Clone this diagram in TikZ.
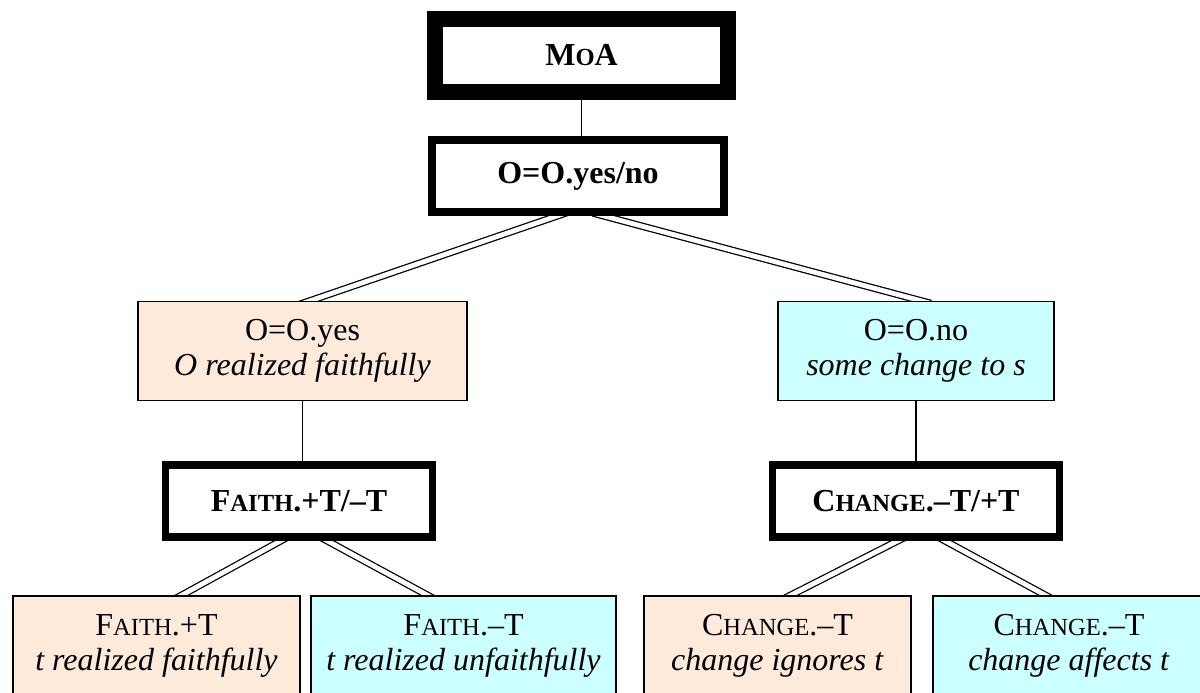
\documentclass[tikz,border=0pt]{standalone}
\usepackage{fontspec}
\setmainfont{Liberation Serif}
\usepackage{tikz}
\usetikzlibrary{calc,backgrounds}
\definecolor{moyes}{RGB}{253,234,218}
\definecolor{mono}{RGB}{204,255,255}
\newcommand{\smc}[1]{{\fontsize{17.5pt}{20pt}\selectfont #1}}
\tikzset{
  mobox/.style={
    draw=black, line width=1.4pt, align=center, inner sep=0pt,
    font=\fontsize{22.76pt}{24.9pt}\selectfont
  },
  hdbox/.style={mobox, fill=white, line width=11.4pt, font=\fontsize{22.76pt}{24.9pt}\selectfont\bfseries},
  decbox/.style={hdbox, line width=5.3pt},
  optyes/.style={mobox, fill=moyes, minimum height=2.475cm},
  optno/.style={mobox, fill=mono, minimum height=2.475cm},
  lnk/.style={draw=black, line width=0.9pt},
  dlnk/.style={draw=black, double=white, double distance=3.4pt, line width=0.9pt,
    shorten <=-8pt, shorten >=-8pt}
}
\begin{document}
\begin{tikzpicture}
  \useasboundingbox (0,0) rectangle (30,17.325);
  \clip (0,0) rectangle (30,17.325);
  \node[hdbox, minimum width=7.325cm, minimum height=1.825cm] (moa) at (14.54,15.94) {M\smc{O}A};
  \node[decbox, line width=5.7pt, minimum width=7.3cm, minimum height=1.8cm] (yesno) at (14.45,12.925) {O=O.yes/no};
  \node[optyes, minimum width=8.225cm] (oyes) at (7.5625,8.55) {O=O.yes\\\textit{O realized faithfully}};
  \node[optno, minimum width=6.9cm] (ono) at (22.9,8.55) {O=O.no\\\textit{some change to s}};
  \node[decbox, minimum width=6.675cm, minimum height=1.8cm] (faith) at (7.475,4.8) {F\smc{AITH}.+T/–T};
  \node[decbox, minimum width=7.175cm, minimum height=1.8cm] (change) at (22.9,4.8) {C\smc{HANGE}.–T/+T};
  \node[optyes, minimum width=7.175cm] (fplus) at (3.9125,1.1875) {F\smc{AITH}.+T\\\textit{t realized faithfully}};
  \node[optno, minimum width=7.625cm] (fminus) at (11.5875,1.1875) {F\smc{AITH}.–T\\\textit{t realized unfaithfully}};
  \node[optyes, minimum width=6.675cm] (cign) at (19.4375,1.1875) {C\smc{HANGE}.–T\\\textit{change ignores t}};
  \node[optno, minimum width=6.8cm] (caff) at (26.725,1.1875) {C\smc{HANGE}.–T\\\textit{change affects t}};
  \begin{scope}[on background layer]
    \draw[lnk] (moa.south) -- (moa.south |- yesno.north);
    \draw[dlnk] ($(yesno.south)+(-0.525,0)$) -- ($(oyes.north)+(0.21,0)$);
    \draw[dlnk] ($(yesno.south)+(0.65,0)$) -- ($(ono.north)+(0.1,0)$);
    \draw[lnk] (oyes.south) -- (oyes.south |- faith.north);
    \draw[lnk] (ono.south) -- (ono.south |- change.north);
    \draw[dlnk] ($(faith.south)+(-0.45,0)$) -- ($(fplus.north)+(0.64,0)$);
    \draw[dlnk] ($(faith.south)+(0.7,0)$) -- ($(fminus.north)+(-0.91,0)$);
    \draw[dlnk] ($(change.south)+(-0.45,0)$) -- ($(cign.north)+(0.34,0)$);
    \draw[dlnk] ($(change.south)+(0.72,0)$) -- ($(caff.north)+(-0.6,0)$);
  \end{scope}
\end{tikzpicture}
\end{document}
